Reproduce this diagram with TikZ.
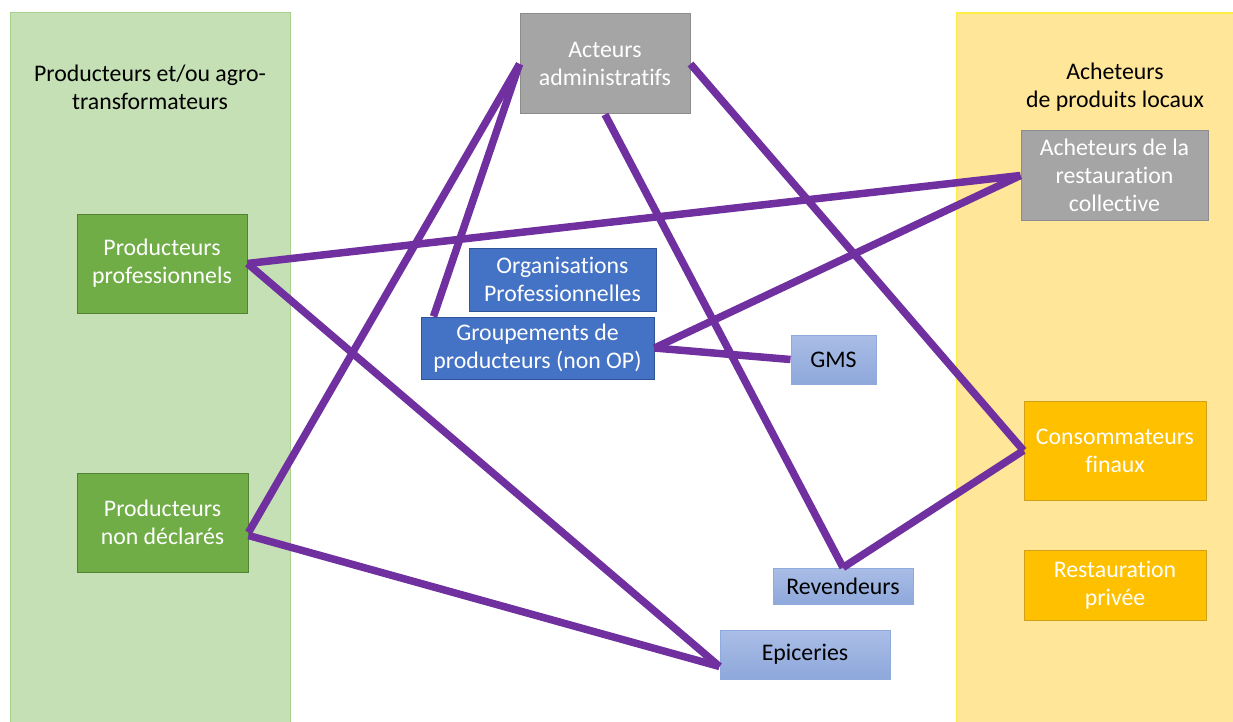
\documentclass[tikz,border=0pt]{standalone}
\usepackage{fontspec}
\setmainfont{Carlito}[Ligatures=NoCommon]
\usetikzlibrary{calc}

\definecolor{panelgreen}{HTML}{C5E0B4}
\definecolor{panelgreenline}{HTML}{A9D18E}
\definecolor{panelyellow}{HTML}{FFE699}
\definecolor{panelyellowline}{HTML}{FFEE44}
\definecolor{boxgreen}{HTML}{70AD47}
\definecolor{boxgreenline}{HTML}{548235}
\definecolor{boxgray}{HTML}{A5A5A5}
\definecolor{boxgrayline}{HTML}{8C8C8C}
\definecolor{boxblue}{HTML}{4472C4}
\definecolor{boxblueline}{HTML}{2F5597}
\definecolor{lightbluetop}{HTML}{AABDE6}
\definecolor{lightbluebot}{HTML}{8EA8DB}
\definecolor{lightblueline}{HTML}{8FAADC}
\definecolor{boxorange}{HTML}{FFC000}
\definecolor{boxorangeline}{HTML}{D4A017}
\definecolor{linkpurple}{HTML}{7030A0}

\tikzset{
  txt/.style={font=\fontsize{23.8}{28}\selectfont, align=center, inner sep=0pt},
  box/.style={txt, rectangle, line width=1pt},
  greenbox/.style={box, fill=boxgreen, draw=boxgreenline, text=white},
  graybox/.style={box, fill=boxgray, draw=boxgrayline, text=white},
  bluebox/.style={box, fill=boxblue, draw=boxblueline, text=white},
  paleblue/.style={box, top color=lightbluetop, bottom color=lightbluebot, draw=lightblueline, text=black},
  orangebox/.style={box, fill=boxorange, draw=boxorangeline, text=white},
  link/.style={draw=linkpurple, line width=7.5pt}
}

\begin{document}
\begin{tikzpicture}[x=1pt, y=-1pt]
  \useasboundingbox (0,0) rectangle (1233,722);

  % side panels
  \fill[panelgreen] (10,13) rectangle (290,722);
  \draw[panelgreenline, line width=1pt] (10,722) -- (10,13) -- (290,13) -- (290,722);
  \fill[panelyellow] (957,13) rectangle (1233,722);
  \draw[panelyellowline, line width=1.2pt] (957,722) -- (957,13) -- (1233,13);

  \node[txt] (titleleft) at (150,87) {Producteurs et/ou agro-\\transformateurs};
  \node[txt] (titleright) at (1115,87) {Acheteurs\\de produits locaux};

  % actors
  \node[greenbox, minimum width=170, minimum height=99] (pp) at (162,263.5) {Producteurs\\professionnels};
  \node[greenbox, minimum width=171, minimum height=99] (nd) at (162.5,522.5) {Producteurs\\non déclarés};
  \node[graybox, minimum width=170, minimum height=100] (aa) at (605,64) {Acteurs\\administratifs};
  \node[bluebox, minimum width=187, minimum height=63] (op) at (562.5,279.5) {Organisations\\Professionnelles};
  \node[bluebox, minimum width=233, minimum height=62] (gp) at (537.5,348) {Groupements de\\producteurs (non OP)};
  \node[paleblue, minimum width=85, minimum height=49] (gms) at (833.5,359.5) {GMS};
  \node[graybox, minimum width=187, minimum height=89] (arc) at (1114.5,175.5) {Acheteurs de la\\restauration\\collective};
  \node[orangebox, minimum width=182, minimum height=99] (cf) at (1115,450.5) {Consommateurs\\finaux};
  \node[orangebox, minimum width=182, minimum height=70] (rp) at (1115,585) {Restauration\\privée};
  \node[paleblue, minimum width=140, minimum height=36] (rev) at (843,586) {Revendeurs};
  \node[paleblue, minimum width=170, minimum height=49] (epi) at (805,654.5) {Epiceries};

  % attachment points off the standard anchors
  \coordinate (ndlow) at ($(nd.east)+(0,13)$);
  \coordinate (ndhigh) at ($(nd.east)+(0,10)$);
  \coordinate (epilow) at ($(epi.west)+(0,12)$);
  \coordinate (gptop) at ($(gp.north west)+(13,0)$);

  % links
  \draw[link] (pp.east) -- (arc.west);
  \draw[link] (pp.east) -- (epilow);
  \draw[link] (ndhigh) -- (aa.west);
  \draw[link] (ndlow) -- (epilow);
  \draw[link] (gptop) -- (aa.west);
  \draw[link] (gp.east) -- (arc.west);
  \draw[link] (gp.east) -- (gms.west);
  \draw[link] (aa.south) -- (rev.north);
  \draw[link] (aa.east) -- (cf.west);
  \draw[link] (rev.north) -- (cf.west);
\end{tikzpicture}
\end{document}
